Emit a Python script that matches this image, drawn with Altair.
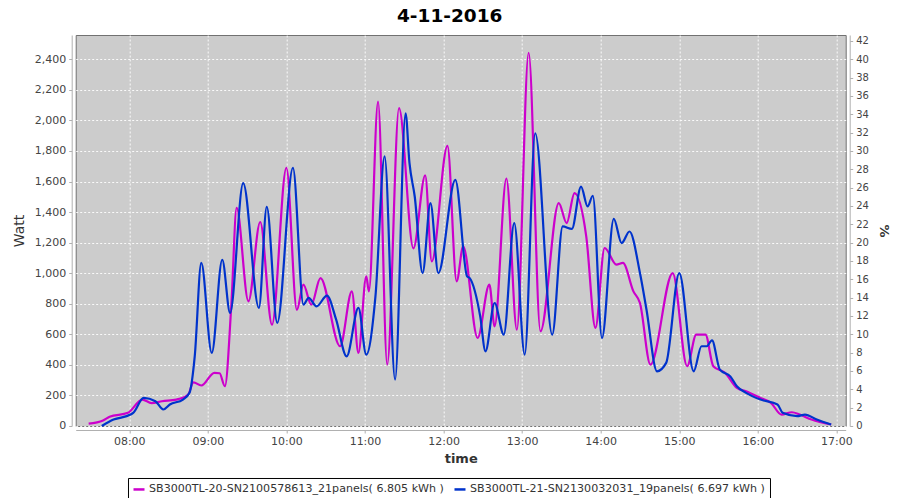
import altair as alt
import pandas as pd

series_names = [
    "SB3000TL-20-SN2100578613_21panels( 6.805 kWh )",
    "SB3000TL-21-SN2130032031_19panels( 6.697 kWh )",
]
series_colors = ["#cc00cc", "#0033cc"]

mag_times = ["07:29", "07:40", "07:45", "07:59", "08:10", "08:17", "08:25", "08:36", "08:45", "08:49",
             "08:55", "09:05", "09:09", "09:13", "09:18", "09:22", "09:31", "09:40", "09:49", "10:00",
             "10:08", "10:13", "10:19", "10:26", "10:41", "10:50", "10:55", "11:01", "11:03", "11:10",
             "11:17", "11:26", "11:37", "11:46", "11:51", "12:03", "12:10", "12:15", "12:26", "12:35",
             "12:39", "12:48", "12:56", "13:05", "13:14", "13:28", "13:34", "13:40", "13:49", "13:56",
             "14:03", "14:12", "14:17", "14:25", "14:30", "14:38", "14:55", "15:06", "15:13", "15:20",
             "15:26", "15:35", "15:44", "15:51", "16:02", "16:10", "16:18", "16:26", "16:32", "16:41",
             "16:56"]
mag_watts = [15, 36, 60, 86, 173, 150, 162, 173, 206, 286,
             265, 348, 345, 260, 800, 1427, 816, 1335, 663, 1690,
             760, 925, 794, 968, 522, 881, 478, 979, 881, 2123,
             402, 2080, 1163, 1640, 1077, 1833, 947, 1175, 576, 925,
             652, 1620, 630, 2443, 620, 1459, 1328, 1524, 1240, 642,
             1165, 1056, 1067, 881, 805, 402, 1001, 391, 598, 598,
             391, 348, 250, 227, 184, 152, 75, 90, 75, 42,
             10]

blue_times = ["07:39", "07:48", "08:01", "08:03", "08:11", "08:20", "08:26", "08:31", "08:41", "08:46",
              "08:50", "08:55", "09:03", "09:11", "09:17", "09:27", "09:39", "09:45", "09:53", "10:05",
              "10:13", "10:17", "10:23", "10:31", "10:38", "10:46", "10:55", "11:01", "11:08", "11:15",
              "11:23", "11:31", "11:34", "11:38", "11:44", "11:50", "11:56", "12:09", "12:18", "12:20",
              "12:28", "12:32", "12:39", "12:46", "12:54", "13:02", "13:10", "13:23", "13:31", "13:38",
              "13:45", "13:50", "13:54", "14:01", "14:10", "14:16", "14:22", "14:30", "14:35", "14:43",
              "14:50", "15:00", "15:11", "15:17", "15:21", "15:25", "15:31", "15:39", "15:44", "15:51",
              "16:02", "16:15", "16:19", "16:30", "16:36", "16:45", "16:56"]
blue_watts = [0, 42, 75, 86, 184, 162, 108, 141, 173, 217,
              456, 1067, 478, 1088, 740, 1589, 773, 1434, 675, 1690,
              794, 838, 783, 853, 696, 456, 773, 467, 848, 1764,
              304, 2047, 1720, 1502, 1001, 1459, 1001, 1611, 979, 968,
              718, 489, 805, 598, 1328, 467, 1916, 598, 1306, 1290,
              1567, 1437, 1507, 576, 1356, 1197, 1273, 1001, 761, 358,
              413, 1001, 358, 522, 522, 561, 369, 325, 260, 217,
              173, 141, 86, 64, 75, 42, 10]


def to_min(s):
    h, m = s.split(":")
    return int(h) * 60 + int(m)


rows = []
for name, times, watts in [(series_names[0], mag_times, mag_watts),
                           (series_names[1], blue_times, blue_watts)]:
    for t, w in zip(times, watts):
        rows.append({"series": name, "t": to_min(t), "watt": w, "pct": w / 60.0})
df = pd.DataFrame(rows)

x_domain = [439.1, 1027.1]
x_enc = alt.X(
    "t:Q",
    scale=alt.Scale(domain=x_domain, nice=False, zero=False),
    axis=alt.Axis(
        title="time",
        values=list(range(480, 1021, 60)),
        labelExpr="pad(floor(datum.value/60), 2, '0', 'left') + ':00'",
        grid=True, gridColor="#ffffff", gridDash=[2, 2], gridOpacity=0.9,
        offset=4, domainColor="#b0b0b0", tickColor="#b0b0b0", tickSize=3,
        labelFont="DejaVu Sans", labelFontSize=11, labelColor="#444444", labelPadding=3,
        titleFont="DejaVu Sans", titleFontSize=13, titleFontWeight="bold", titleColor="#333333",
        titlePadding=6,
    ),
)

lines = alt.Chart(df).mark_line(strokeWidth=2.2, interpolate="monotone").encode(
    x=x_enc,
    y=alt.Y(
        "watt:Q",
        scale=alt.Scale(domain=[0, 2559], nice=False),
        axis=alt.Axis(
            title="Watt", values=list(range(0, 2401, 200)), format=",d",
            grid=True, gridColor="#ffffff", gridDash=[2, 2], gridOpacity=0.9,
            offset=4, domainColor="#b0b0b0", tickColor="#b0b0b0", tickSize=3,
            labelFont="DejaVu Sans", labelFontSize=11, labelColor="#444444", labelPadding=3,
            titleFont="DejaVu Sans", titleFontSize=14, titleFontWeight="normal", titleColor="#333333",
            titlePadding=8,
        ),
    ),
    color=alt.Color(
        "series:N",
        scale=alt.Scale(domain=series_names, range=series_colors),
        legend=alt.Legend(
            title=None, orient="none", legendX=52.3, legendY=443, direction="horizontal",
            columns=2, symbolType="stroke", symbolSize=121, symbolStrokeWidth=2.5,
            labelFont="DejaVu Sans", labelFontSize=11.1, labelColor="#333333", labelLimit=500,
            labelOffset=3, columnPadding=4, padding=4, strokeColor="#000000",
        ),
    ),
)

right = alt.Chart(df).mark_line(opacity=0).encode(
    x=alt.X("t:Q", scale=alt.Scale(domain=x_domain, nice=False, zero=False)),
    y=alt.Y(
        "pct:Q",
        scale=alt.Scale(domain=[0, 2559 / 60.0], nice=False),
        axis=alt.Axis(
            orient="right", title="%", values=list(range(0, 43, 2)), grid=False,
            offset=4, domainColor="#b0b0b0", tickColor="#b0b0b0", tickSize=3,
            labelFont="DejaVu Sans", labelFontSize=10, labelColor="#444444", labelPadding=3,
            titleFont="DejaVu Sans", titleFontSize=13, titleColor="#333333", titlePadding=8,
        ),
    ),
    detail="series:N",
)

chart = alt.layer(lines, right).resolve_scale(y="independent").properties(
    width=770,
    height=391,
    autosize=alt.AutoSizeParams(type="none"),
    padding={"left": 67.7, "top": 27, "right": 46, "bottom": 72},
    background="#ffffff",
    title=alt.TitleParams(
        "4-11-2016", font="DejaVu Sans", fontSize=18.5, fontWeight="bold", color="#000000",
        anchor="middle", dx=-11, offset=-5, baseline="alphabetic",
    ),
).configure_view(fill="#cccccc", stroke="#707070", strokeWidth=1)

chart.save("out.html", embed_options={"renderer": "svg", "actions": False})
